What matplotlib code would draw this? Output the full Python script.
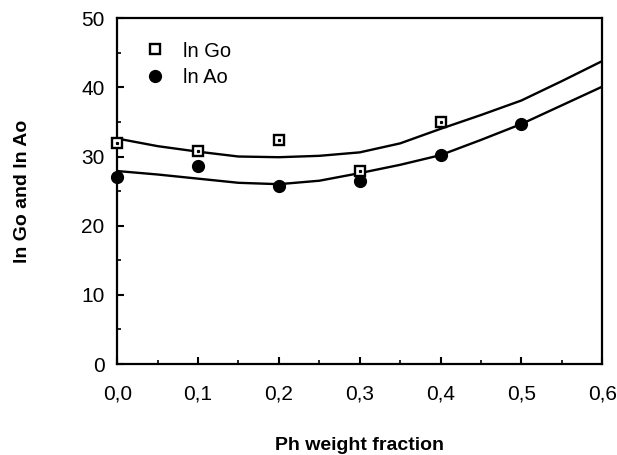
import numpy as np
import matplotlib
matplotlib.use('Agg')
import matplotlib.pyplot as plt
from matplotlib import rcParams
from matplotlib.ticker import MultipleLocator

rcParams['font.family'] = 'sans-serif'
rcParams['font.sans-serif'] = ['Liberation Sans', 'DejaVu Sans']
rcParams['font.size'] = 14
rcParams['xtick.direction'] = 'in'
rcParams['ytick.direction'] = 'in'

# measured points
ph_go = [0.0, 0.1, 0.2, 0.3, 0.4]
ln_go = [31.9, 30.8, 32.4, 27.9, 35.0]
ph_ao = [0.0, 0.1, 0.2, 0.3, 0.4, 0.5]
ln_ao = [27.0, 28.6, 25.8, 26.4, 30.2, 34.7]

# fitted curves
ph_fit = [0.0, 0.05, 0.1, 0.15, 0.2, 0.25, 0.3, 0.35, 0.4, 0.45, 0.5, 0.55, 0.6]
go_fit = [32.6, 31.5, 30.7, 30.0, 29.9, 30.1, 30.6, 31.9, 34.0, 36.0, 38.1, 40.9, 43.8]
ao_fit = [27.9, 27.4, 26.8, 26.2, 26.0, 26.5, 27.6, 28.8, 30.2, 32.4, 34.7, 37.4, 40.1]

xticks = [0.0, 0.1, 0.2, 0.3, 0.4, 0.5, 0.6]
xticklabels = ['0,0', '0,1', '0,2', '0,3', '0,4', '0,5', '0,6']
yticks = [0, 10, 20, 30, 40, 50]

fig = plt.figure(figsize=(6.17, 4.55), dpi=100)
ax = fig.add_axes([0.19, 0.2, 0.786, 0.76])

ax.plot(ph_fit, go_fit, color='k', linewidth=1.7)
ax.plot(ph_fit, ao_fit, color='k', linewidth=1.7)

ax.plot(ph_go, ln_go, linestyle='none', marker='s', markersize=7,
        markerfacecolor='white', markeredgecolor='k', markeredgewidth=1.7,
        label='ln Go', clip_on=False, zorder=3)
ax.plot(ph_go, ln_go, linestyle='none', marker='s', markersize=1.3,
        color='k', clip_on=False, zorder=4)
ax.plot(ph_ao, ln_ao, linestyle='none', marker='o', markersize=8.5,
        color='k', label='ln Ao', clip_on=False, zorder=3)

ax.set_xlim(0, 0.6)
ax.set_ylim(0, 50)
ax.set_xticks(xticks)
ax.set_xticklabels(xticklabels)
ax.set_yticks(yticks)
ax.xaxis.set_minor_locator(MultipleLocator(0.05))
ax.yaxis.set_minor_locator(MultipleLocator(5))
ax.tick_params(which='major', length=5, width=1.5, top=False, right=False,
               labelsize=15)
ax.tick_params(axis='x', which='major', pad=15)
ax.tick_params(axis='y', which='major', pad=9)
ax.tick_params(which='minor', length=3, width=1.2, top=False, right=False)
for s in ax.spines.values():
    s.set_linewidth(1.6)

ax.set_xlabel('Ph weight fraction', fontweight='bold', fontsize=14,
              labelpad=24)
ax.set_ylabel('ln Go and ln Ao', fontweight='bold', fontsize=14,
              labelpad=36)

leg = ax.legend(loc='upper left', bbox_to_anchor=(0.02, 0.985), frameon=False,
                fontsize=14.5, handletextpad=0.9, labelspacing=0.35,
                handlelength=1.0)

fig.savefig('out.png', dpi=100)
